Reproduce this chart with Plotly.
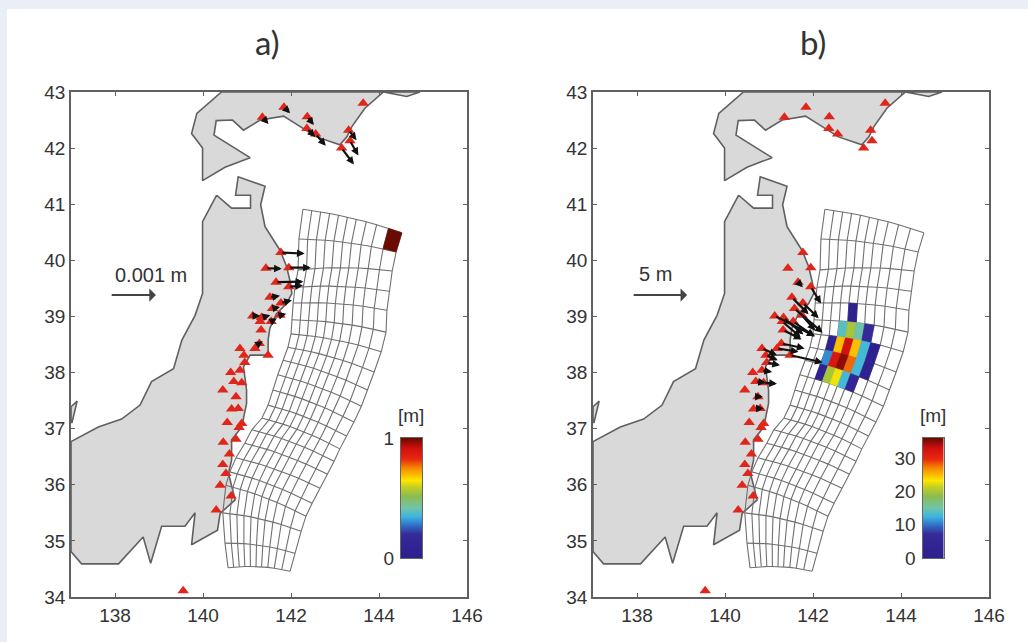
import plotly.graph_objects as go
from plotly.colors import sample_colorscale

# ---------- data (degrees) ----------
hokkaido_lon = [140.42,139.86,139.74,139.99,139.99,140.5,141.07,140.61,140.25,140.30,140.67,140.92,141.30,141.83,142.32,142.58,143.11,143.27,143.38,143.68,144.10,144.63,144.93,140.42]
hokkaido_lat = [43.0,42.62,42.26,42.0,41.42,41.66,41.83,42.06,42.23,42.49,42.5,42.32,42.5,42.57,42.32,42.20,42.06,42.2,42.38,42.71,43.0,42.92,43.0,43.0]
honshu_lon = [140.31,140.65,141.08,141.08,140.74,140.80,141.41,141.31,141.41,141.75,141.90,141.99,142.02,141.90,141.67,141.52,141.48,141.48,141.07,140.92,140.99,140.99,140.88,140.65,140.65,140.58,140.73,140.39,140.33,139.74,139.82,139.59,139.06,138.81,138.64,138.08,137.24,137.0,137.0,137.62,138.15,138.57,138.83,139.33,139.52,139.82,139.99,139.99,140.31]
honshu_lat = [41.16,40.93,40.93,41.16,41.16,41.49,41.32,40.99,40.60,40.18,39.89,39.59,39.41,39.23,39.05,38.79,38.58,38.31,38.31,38.10,37.69,37.45,37.03,36.80,36.44,36.20,35.73,35.49,35.19,34.93,35.50,35.26,35.26,34.60,35.07,34.59,34.59,34.81,36.77,37.03,37.17,37.42,37.84,38.07,38.58,39.02,39.41,40.69,41.16]
noto_lon = [137.0,137.0,137.14,137.02,137.0]
noto_lat = [37.15,37.39,37.49,37.10,37.15]

station_lon = [141.35,141.84,142.37,142.36,142.56,143.15,143.34,143.31,143.64,141.77,141.43,141.95,141.66,141.95,141.52,141.77,141.58,141.75,141.13,141.33,141.30,141.55,141.32,141.28,140.84,141.18,140.93,141.48,140.95,140.84,140.63,140.70,140.88,140.45,140.75,140.65,140.80,140.55,140.88,140.82,140.75,140.46,140.60,140.45,140.52,140.39,140.64,140.30,139.55]
station_lat = [42.55,42.73,42.56,42.35,42.25,42.00,42.13,42.32,42.80,40.14,39.86,39.87,39.61,39.53,39.34,39.24,39.14,39.02,39.01,38.98,38.91,38.91,38.76,38.52,38.43,38.43,38.31,38.31,38.18,38.04,38.00,37.84,37.82,37.69,37.57,37.35,37.36,37.11,37.09,37.02,36.81,36.76,36.55,36.36,36.20,35.99,35.80,35.55,34.11]

# arrow displacement per station, degrees
arrow_u_a = [.14,.14,.15,.19,.23,.28,.19,.18,0,.54,.36,.50,.62,.32,.23,.25,.17,.14,.17,.20,0,.13,0,.08]+[0]*25
arrow_v_a = [-.12,-.11,-.15,-.15,-.21,-.29,-.26,-.18,0,-.02,-.01,0,.01,.02,.03,.05,.03,.03,0,.04,0,.06,0,.04]+[0]*25
arrow_u_b = [0]*9+[0,0,0,.11,.23,.38,.36,.64,.30,.91,.45,.42,.49,.42,.53,.34,.49,.27,.74,.30,.23,0,.23,.30,0,.11,0,.08]+[0]*12
arrow_v_b = [0]*9+[0,0,0,-.09,-.30,-.30,-.27,-.43,-.27,-.36,-.30,-.28,-.27,-.17,-.09,-.12,-.06,-.09,-.13,-.05,-.03,0,-.02,-.02,0,0,0,0]+[0]*12

# fault mesh: along-strike row ends, and column positions across each row
row_left_lon  = [142.27,142.18,142.16,142.09,142.05,142.02,142.00,141.93,141.82,141.70,141.59,141.48,141.34,141.11,140.95,140.75,140.61,140.52,140.45,140.50,140.57]
row_left_lat  = [40.91,40.38,39.83,39.52,39.24,38.94,38.69,38.45,38.22,37.96,37.69,37.42,37.19,36.98,36.74,36.48,36.23,35.99,35.50,34.96,34.52]
row_right_lon = [144.52,144.39,144.30,144.23,144.18,144.16,144.05,143.89,143.74,143.60,143.43,143.26,143.11,142.98,142.82,142.66,142.48,142.34,142.23,142.09,141.98]
row_right_lat = [40.49,40.15,39.81,39.45,39.11,38.72,38.37,38.01,37.69,37.40,37.12,36.87,36.64,36.42,36.19,35.94,35.67,35.44,35.17,34.78,34.46]
col_frac = [0,.09,.18,.27,.36,.45,.54,.64,.745,.865,1]
row_bow = 0.05

# slip cells: mesh row, mesh column, slip (m)
cell_row_a = [0]
cell_col_a = [9]
cell_val_a = [1.0]
cell_row_b = [4, 5,5,5,5, 6,6,6,6,6,6, 7,7,7,7,7,7, 8,8,8,8,8]
cell_col_b = [4, 3,4,5,6, 2,3,4,5,6,7, 2,3,4,5,6,7, 2,3,4,5,6]
cell_val_b = [2, 14,20,15,7, 2,25,33,25,13,2, 11,32,35,28,13,2, 2,20,23,13,5]

slip_scale = [[0,"#2d1e8c"],[.2,"#352a98"],[.27,"#3068c4"],[.35,"#3cb6e0"],[.42,"#70c4a8"],[.52,"#8cbc50"],[.6,"#c8d020"],[.65,"#ffe600"],[.75,"#f58c00"],[.83,"#e82810"],[.92,"#d01010"],[1,"#6b0a00"]]

cbar_levels_a = [0,.1,.2,.3,.4,.5,.6,.7,.8,.9,1]
cbar_ticks_a = [0,1]
cbar_levels_b = [0,3.6,7.2,10.8,14.4,18,21.6,25.2,28.8,32.4,36]
cbar_ticks_b = [0,10,20,30]
x_ticks = [138,140,142,144,146]
y_ticks = [34,35,36,37,38,39,40,41,42,43]

W, H = 1028, 642
TXT = "#333333"
FONT = "Liberation Sans"

fig = go.Figure()
fig.add_shape(type="rect", xref="paper", yref="paper", x0=7/W, x1=1, y0=0, y1=1-9/H,
              fillcolor="white", line_width=0, layer="below")

def node(r, j):
    f = col_frac[j]
    lon = row_left_lon[r] + f*(row_right_lon[r]-row_left_lon[r])
    lat = row_left_lat[r] + f*(row_right_lat[r]-row_left_lat[r]) + row_bow*4*f*(1-f)
    return lon, lat

def panel(xa, ya, cell_row, cell_col, cell_val, vmax, u, v):
    for lo, la in [(hokkaido_lon,hokkaido_lat),(honshu_lon,honshu_lat),(noto_lon,noto_lat)]:
        fig.add_trace(go.Scatter(x=lo, y=la, xaxis=xa, yaxis=ya, mode="lines", fill="toself",
                                 fillcolor="#d9d9d9", line=dict(color="#606060", width=1.6),
                                 hoverinfo="skip", showlegend=False))
    mx, my = [], []
    for r in range(len(row_left_lon)):
        for j in range(len(col_frac)):
            a, b = node(r, j); mx.append(a); my.append(b)
        mx.append(None); my.append(None)
    for j in range(len(col_frac)):
        for r in range(len(row_left_lon)):
            a, b = node(r, j); mx.append(a); my.append(b)
        mx.append(None); my.append(None)
    fig.add_trace(go.Scatter(x=mx, y=my, xaxis=xa, yaxis=ya, mode="lines",
                             line=dict(color="#707070", width=1.1), hoverinfo="skip", showlegend=False))
    for r, j, val in zip(cell_row, cell_col, cell_val):
        c = sample_colorscale(slip_scale, [val/vmax])[0]
        pts = [node(r,j), node(r,j+1), node(r+1,j+1), node(r+1,j), node(r,j)]
        fig.add_trace(go.Scatter(x=[p[0] for p in pts], y=[p[1] for p in pts], xaxis=xa, yaxis=ya,
                                 mode="lines", fill="toself", fillcolor=c, line=dict(color=c, width=0.5),
                                 hoverinfo="skip", showlegend=False))
    fig.add_trace(go.Scatter(x=station_lon, y=station_lat, xaxis=xa, yaxis=ya, mode="markers",
                             marker=dict(symbol="triangle-up", size=10, color="#e0261a"),
                             cliponaxis=False, hoverinfo="skip", showlegend=False))
    for lo, la, du, dv in zip(station_lon, station_lat, u, v):
        if du or dv:
            fig.add_annotation(x=lo+du, y=la+dv, ax=lo, ay=la, xref=xa, yref=ya, axref=xa, ayref=ya,
                               text="", showarrow=True, arrowhead=2, arrowsize=0.7, arrowwidth=2.2,
                               arrowcolor="#111111", standoff=0)

panel("x", "y", cell_row_a, cell_col_a, cell_val_a, 1, arrow_u_a, arrow_v_a)
panel("x2", "y2", cell_row_b, cell_col_b, cell_val_b, 36, arrow_u_b, arrow_v_b)

def colorbar_axes(xa, ya, levels, ticks, left_px, right_px, layout):
    vmax = levels[-1]
    fig.add_trace(go.Heatmap(x=[0,1], y=levels, z=[[l,l] for l in levels], xaxis=xa, yaxis=ya, zmin=0, zmax=vmax,
                             colorscale=slip_scale, showscale=False, zsmooth="best", hoverinfo="skip"))
    xn, yn = "xaxis"+xa[1:], "yaxis"+ya[1:]
    layout[xn] = dict(domain=[left_px/W,right_px/W], range=[0,1], anchor=ya, showticklabels=False, ticks="",
                      showgrid=False, zeroline=False, showline=True, mirror=True, linecolor="#666666", linewidth=1)
    layout[yn] = dict(domain=[1-558/H,1-438/H], range=[0,vmax], anchor=xa, side="left", tickvals=ticks, ticks="",
                      showgrid=False, zeroline=False, showline=True, mirror=True, linecolor="#666666", linewidth=1,
                      ticklabelstandoff=2, tickfont=dict(family=FONT, size=19, color=TXT))

extra = {}
colorbar_axes("x3", "y3", cbar_levels_a, cbar_ticks_a, 401, 422, extra)
colorbar_axes("x4", "y4", cbar_levels_b, cbar_ticks_b, 922.5, 944, extra)

axis = dict(range=[137,146], showgrid=False, zeroline=False, showline=True, linecolor="#606060", linewidth=1.6,
            mirror="allticks", ticks="inside", ticklen=4, tickwidth=1, tickcolor="#606060",
            tickfont=dict(family=FONT, size=19, color=TXT), tickvals=x_ticks)
yaxis = dict(axis, range=[34,43], tickvals=y_ticks)
fig.update_layout(
    width=W, height=H, margin=dict(l=0,r=0,t=0,b=0,autoexpand=False), autosize=False,
    paper_bgcolor="#e9eef7", plot_bgcolor="white", showlegend=False,
    xaxis=dict(axis, domain=[71/W,467/W]), yaxis=dict(yaxis, domain=[1-597/H,1-92/H]),
    xaxis2=dict(axis, domain=[593/W,989/W], anchor="y2"), yaxis2=dict(yaxis, domain=[1-597/H,1-92/H], anchor="x2"),
    **extra,
)

def label(text, x_px, y_px, size, family=FONT):
    fig.add_annotation(xref="paper", yref="paper", x=x_px/W, y=1-y_px/H, text=text, showarrow=False,
                       xanchor="center", yanchor="middle", font=dict(family=family, size=size, color=TXT))

label("a)", 267, 42, 33, "Lato")
label("b)", 813, 42, 33, "Lato")
label("[m]", 411, 415, 19)
label("[m]", 933, 415, 19)
label("0.001 m", 151, 275, 20)
label("5 m", 655, 274, 20)

fig.add_annotation(x=138.93, y=39.38, ax=137.89, ay=39.38, xref="x", yref="y", axref="x", ayref="y", text="",
                   showarrow=True, arrowhead=1, arrowsize=1.1, arrowwidth=2, arrowcolor="#444444", standoff=0)
fig.add_annotation(x=139.14, y=39.38, ax=137.89, ay=39.38, xref="x2", yref="y2", axref="x2", ayref="y2", text="",
                   showarrow=True, arrowhead=1, arrowsize=1.1, arrowwidth=2, arrowcolor="#444444", standoff=0)

fig.write_html("out.html", config=dict(displayModeBar=False), post_script="document.body.style.margin='0';")
